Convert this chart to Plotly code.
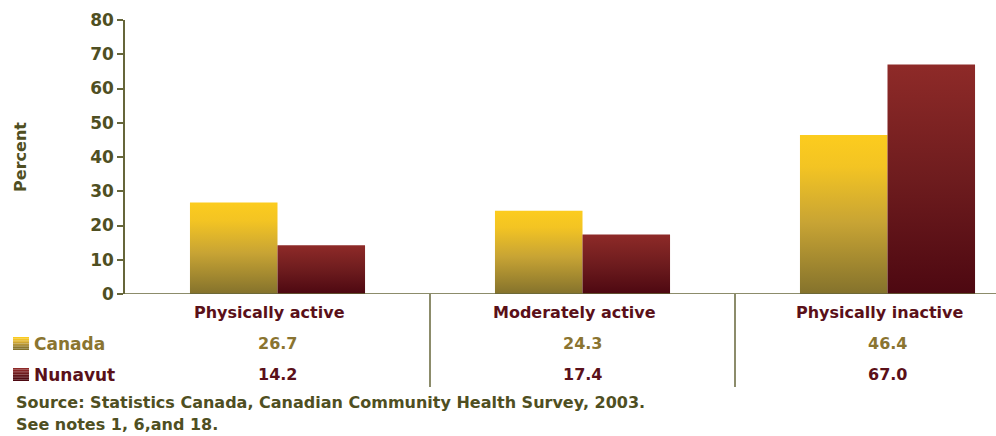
import plotly.graph_objects as go

categories = ["Physically active", "Moderately active", "Physically inactive"]
canada = [26.7, 24.3, 46.4]
nunavut = [14.2, 17.4, 67.0]
canada_labels = ["26.7", "24.3", "46.4"]
nunavut_labels = ["14.2", "17.4", "67.0"]
y_ticks = [0, 10, 20, 30, 40, 50, 60, 70, 80]

W, H = 996, 436
L, R, T, B = 125, 0, 20, 142
PW = W - L - R
PH = H - T - B

def px_x(p):
    return (p - L) / PW

def px_y(p):
    return (H - B - p) / PH

FONT = "DejaVu Sans"
OLIVE = "#4f4f22"
AXIS = "#66663a"
GOLD_TXT = "#8a7430"
MAROON_TXT = "#5a1019"

canada_scale = [[0, "#84722c"], [0.45, "#c8a434"], [0.8, "#f3c423"], [1, "#fccc1e"]]
nunavut_scale = [[0, "#4d0811"], [0.5, "#6e1c1e"], [1, "#8e2a28"]]

bw = 0.287
fig = go.Figure()
for i, cat in enumerate(categories):
    for vals, off, cs in ((canada, -bw, canada_scale), (nunavut, 0.0, nunavut_scale)):
        x0, x1 = i + off, i + off + bw
        v = vals[i]
        fig.add_trace(go.Scatter(
            x=[x0, x1, x1, x0, x0], y=[0, 0, v, v, 0],
            mode="lines", line=dict(width=0), fill="toself",
            fillgradient=dict(type="vertical", colorscale=cs, start=0, stop=v),
            hoverinfo="skip", showlegend=False,
        ))

fig.update_layout(
    width=W, height=H,
    margin=dict(l=L, r=R, t=T, b=B),
    paper_bgcolor="white", plot_bgcolor="white",
    showlegend=False,
    font=dict(family=FONT, color=OLIVE),
    xaxis=dict(range=[-0.5, -0.5 + PW / 305.0], showgrid=False, zeroline=False,
               showticklabels=False, ticks="", showline=False, fixedrange=True),
    yaxis=dict(range=[0, 80], tickvals=y_ticks, showgrid=False, zeroline=False,
               showline=True, linecolor=AXIS, linewidth=1.5,
               ticks="outside", ticklen=6, tickcolor=AXIS, tickwidth=1.5,
               tickfont=dict(family=FONT, size=17, color=OLIVE, weight="bold"),
               title=dict(text="Percent", font=dict(family=FONT, size=16, color=OLIVE, weight="bold"),
                          standoff=60)),
)

shapes = []
# x axis line
shapes.append(dict(type="line", xref="paper", yref="y", x0=0, x1=1, y0=0, y1=0,
                   line=dict(color=AXIS, width=1.5)))
# dividers
for xv in (0.5, 1.5):
    shapes.append(dict(type="line", xref="x", yref="paper", x0=xv, x1=xv, y0=0, y1=px_y(387),
                       line=dict(color=AXIS, width=1.5)))
# legend squares (banded)
def legend_square(ytop, cols):
    n = len(cols)
    h = 13.0 / n
    for k, c in enumerate(cols):
        shapes.append(dict(type="rect", xref="paper", yref="paper",
                           x0=px_x(13), x1=px_x(29), y0=px_y(ytop + (k + 1) * h), y1=px_y(ytop + k * h),
                           fillcolor=c, line=dict(width=0), layer="above"))
legend_square(337, ["#fbcb1e", "#f1c225", "#e1b52c", "#cda534", "#b59434", "#9e8331", "#8a762e", "#84722c"])
legend_square(368, ["#8e2a28", "#852526", "#7a2123", "#6e1c1e", "#62161a", "#560f15", "#500b12", "#4d0811"])
fig.update_layout(shapes=shapes)

ann = []
for i, cat in enumerate(categories):
    ann.append(dict(x=i, y=px_y(312), xref="x", yref="paper", text=cat, showarrow=False,
                    xshift=-8, yanchor="middle",
                    font=dict(family=FONT, size=16, color=MAROON_TXT, weight="bold")))
    ann.append(dict(x=i, y=px_y(343), xref="x", yref="paper", text=canada_labels[i], showarrow=False,
                    yanchor="middle", font=dict(family=FONT, size=16, color=GOLD_TXT, weight="bold")))
    ann.append(dict(x=i, y=px_y(374), xref="x", yref="paper", text=nunavut_labels[i], showarrow=False,
                    yanchor="middle", font=dict(family=FONT, size=16, color=MAROON_TXT, weight="bold")))
ann.append(dict(x=px_x(32), y=px_y(344), xref="paper", yref="paper", text="Canada", showarrow=False,
                xanchor="left", yanchor="middle", font=dict(family=FONT, size=17, color=GOLD_TXT, weight="bold")))
ann.append(dict(x=px_x(32), y=px_y(375), xref="paper", yref="paper", text="Nunavut", showarrow=False,
                xanchor="left", yanchor="middle", font=dict(family=FONT, size=17, color=MAROON_TXT, weight="bold")))
ann.append(dict(x=px_x(14), y=px_y(402), xref="paper", yref="paper",
                text="Source: Statistics Canada, Canadian Community Health Survey, 2003.", showarrow=False,
                xanchor="left", yanchor="middle", font=dict(family=FONT, size=16, color=OLIVE, weight="bold")))
ann.append(dict(x=px_x(14), y=px_y(424), xref="paper", yref="paper",
                text="See notes 1, 6,and 18.", showarrow=False,
                xanchor="left", yanchor="middle", font=dict(family=FONT, size=16, color=OLIVE, weight="bold")))
fig.update_layout(annotations=ann)

fig.write_html("out.html", config={"displayModeBar": False},
               post_script="document.body.style.margin='0';document.body.style.padding='0';")
